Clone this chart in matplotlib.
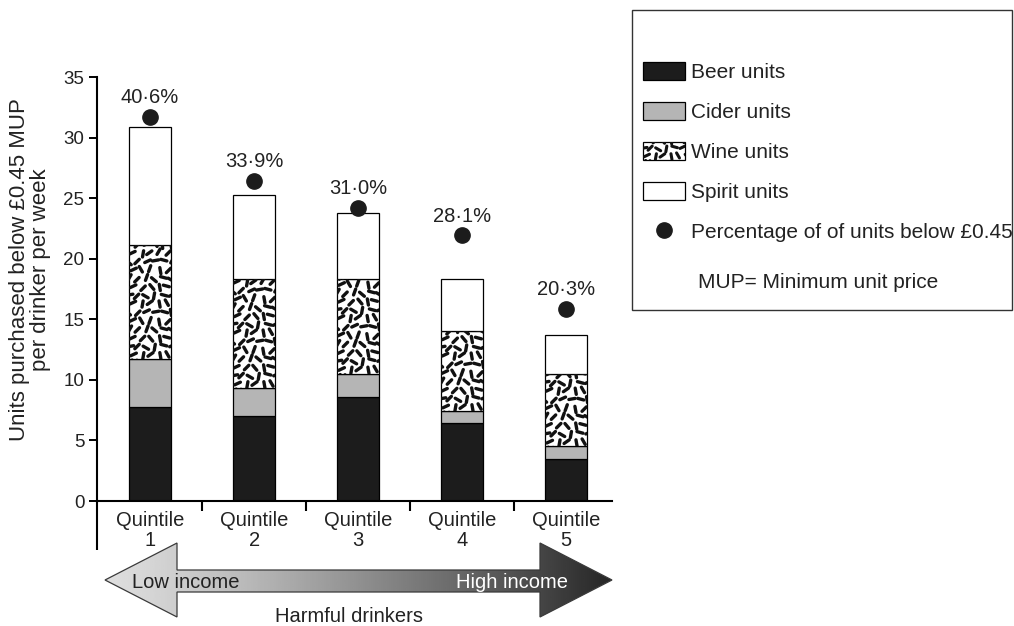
import numpy as np
import matplotlib
matplotlib.use("Agg")
import matplotlib.pyplot as plt
from matplotlib.patches import Patch, Polygon, Rectangle
from matplotlib.lines import Line2D
from matplotlib.collections import LineCollection
from matplotlib.legend_handler import HandlerBase

plt.rcParams["font.family"] = ["Liberation Sans", "DejaVu Sans"]

# values
quintiles = ["Quintile\n1", "Quintile\n2", "Quintile\n3", "Quintile\n4", "Quintile\n5"]
beer = [7.8, 7.0, 8.6, 6.4, 3.5]
cider = [3.9, 2.3, 1.9, 1.0, 1.0]
wine = [9.4, 9.0, 7.8, 6.6, 6.0]
spirit = [9.8, 7.0, 5.5, 4.3, 3.2]
pct_below = [40.6, 33.9, 31.0, 28.1, 20.3]

TXT = "#222222"

# texture used for the wine segments (random-looking short dashes)
ANGLES = [25, 100, 60, 140, 10, 80, 120, 45, 165, 95, 35, 130, 70, 150]
JIT = [0.0, 1.5, -1.2, 0.8, -0.6, 1.9, -1.7, 0.4, -1.0, 1.1]


def dash_segments(x0, y0, w, h, cell, length):
    segs = []
    nx = int(np.ceil(w / cell)) + 2
    ny = int(np.ceil(h / cell)) + 2
    for j in range(-1, ny):
        for i in range(-1, nx):
            k = (i * 5 + j * 7 + (i * j) % 3) % 97
            a = np.deg2rad(ANGLES[k % len(ANGLES)])
            cx = x0 + (i + 0.5 + 0.5 * (j % 2)) * cell + JIT[(k + j) % len(JIT)] * cell / 12
            cy = y0 + (j + 0.5) * cell + JIT[(k + 3) % len(JIT)] * cell / 12
            dx = np.cos(a) * length / 2
            dy = np.sin(a) * length / 2
            segs.append([(cx - dx, cy - dy), (cx + dx, cy + dy)])
    return segs


class WineHandler(HandlerBase):
    def create_artists(self, legend, orig_handle, xdescent, ydescent,
                       width, height, fontsize, trans):
        rect = Rectangle((-xdescent, -ydescent), width, height, facecolor="white",
                         edgecolor="black", lw=0.9, transform=trans)
        segs = dash_segments(-xdescent, -ydescent, width, height, 5.6, 4.2)
        lc = LineCollection(segs, colors="#111111", linewidths=2.2,
                            transform=trans, capstyle="round")
        lc.set_clip_path(rect)
        return [rect, lc]


fig = plt.figure(figsize=(10.14, 6.26), dpi=100)
W, H = 1014, 626

# background overlay for the income arrow (figure pixel coordinates)
over = fig.add_axes([0, 0, 1, 1], zorder=0)
over.set_xlim(0, W)
over.set_ylim(H, 0)
over.axis("off")

ax = fig.add_axes([97 / W, (H - 501) / H, 515 / W, 424 / H], zorder=1)
ax.patch.set_alpha(0)
x = np.arange(1, 6)
bw = 0.4

ax.bar(x, beer, bw, color="#1c1c1c", edgecolor="black", lw=0.9)
ax.bar(x, cider, bw, bottom=beer, color="#b5b5b5", edgecolor="black", lw=0.9)
b2 = np.array(beer) + np.array(cider)
wine_bars = ax.bar(x, wine, bw, bottom=b2, color="white", edgecolor="black", lw=0.9)
b3 = b2 + np.array(wine)
ax.bar(x, spirit, bw, bottom=b3, color="white", edgecolor="black", lw=0.9)

ax.set_xlim(0.49, 5.44)
ax.set_ylim(0, 35)

inv = ax.transData.inverted()
for p in wine_bars.patches:
    (px0, py0) = ax.transData.transform((p.get_x(), p.get_y()))
    (px1, py1) = ax.transData.transform((p.get_x() + p.get_width(), p.get_y() + p.get_height()))
    segs = dash_segments(px0, py0, px1 - px0, py1 - py0, 8.5, 6.3)
    segs = [inv.transform(np.array(s)) for s in segs]
    lc = LineCollection(segs, colors="#111111", linewidths=2.4, capstyle="round", zorder=2.5)
    ax.add_collection(lc, autolim=False)
    lc.set_clip_path(p)

# percentage dots on their own (hidden) scale
ax2 = ax.twinx()
ax2.set_ylim(0, 35 / 0.78)
ax2.axis("off")
ax2.plot(x, pct_below, "o", color="#1c1c1c", markersize=11)
for xi, v in zip(x, pct_below):
    ax2.annotate(f"{v:.1f}".replace(".", "·") + "%", (xi, v), xytext=(0, 14),
                 textcoords="offset points", ha="center", va="center",
                 fontsize=14.5, color=TXT)

for s in ["top", "right"]:
    ax.spines[s].set_visible(False)
for s in ["left", "bottom"]:
    ax.spines[s].set_linewidth(1.5)
ax.plot([0, 0], [0, -0.116], color="black", lw=1.5, transform=ax.transAxes,
        clip_on=False, solid_capstyle="butt")

ax.set_yticks(range(0, 36, 5))
ax.tick_params(axis="y", direction="out", length=6, width=1.4, labelsize=13.5,
               pad=3, labelcolor=TXT)
ax.set_xticks(x)
ax.set_xticklabels(quintiles, fontsize=14.5, color=TXT, linespacing=1.1)
ax.tick_params(axis="x", which="major", length=0, pad=7)
ax.set_xticks([1.5, 2.5, 3.5, 4.5], minor=True)
ax.tick_params(axis="x", which="minor", direction="out", length=7, width=1.5)

fig.text(30 / W, 1 - 270 / H, "Units purchased below £0.45 MUP\nper drinker per week",
         rotation=90, ha="center", va="center", fontsize=16, color=TXT,
         multialignment="center", linespacing=1.05)

# income arrow with grey gradient
arrow_pts = [(105, 580), (177, 543), (177, 570), (540, 570), (540, 543), (612, 580),
             (540, 617), (540, 592), (177, 592), (177, 617)]
arrow = Polygon(arrow_pts, closed=True, fill=False, edgecolor="#3a3a3a", lw=0.9)
t = np.linspace(0, 1, 256)
grad = (0.87 - 0.72 * t ** 1.25)[None, :]
im = over.imshow(grad, cmap="gray", vmin=0, vmax=1, aspect="auto",
                 extent=[105, 612, 617, 543], interpolation="bilinear")
im.set_clip_path(Polygon(arrow_pts, closed=True, transform=over.transData))
over.add_patch(arrow)
over.set_xlim(0, W)
over.set_ylim(H, 0)
over.text(186, 582, "Low income", ha="center", va="center", fontsize=14.5, color="#222222")
over.text(512, 582, "High income", ha="center", va="center", fontsize=14.5, color="white")
over.text(349, 617, "Harmful drinkers", ha="center", va="center", fontsize=14.5, color=TXT)

# legend box
fig.patches.append(Rectangle((632 / W, 1 - 310 / H), 380 / W, 300 / H,
                             transform=fig.transFigure, fill=False,
                             edgecolor="#333333", lw=1.0))
handles = [
    Patch(facecolor="#1c1c1c", edgecolor="black", lw=0.9),
    Patch(facecolor="#b5b5b5", edgecolor="black", lw=0.9),
    Patch(facecolor="white", edgecolor="black"),
    Patch(facecolor="white", edgecolor="black", lw=0.9),
    Line2D([], [], marker="o", ls="none", color="#1c1c1c", markersize=11),
]
labels = ["Beer units", "Cider units", "Wine units", "Spirit units",
          "Percentage of of units below £0.45"]
fig.legend(handles, labels, loc="upper left",
           bbox_to_anchor=(643 / W, 1 - 62 / H), bbox_transform=fig.transFigure,
           frameon=False, fontsize=15, handlelength=2.0, handleheight=0.95,
           handletextpad=0.3, labelspacing=0.95, borderpad=0, borderaxespad=0,
           labelcolor=TXT, handler_map={handles[2]: WineHandler()})
fig.text(698 / W, 1 - 283 / H, "MUP= Minimum unit price", ha="left", va="center",
         fontsize=15, color=TXT)

fig.savefig("out.png", dpi=100)
